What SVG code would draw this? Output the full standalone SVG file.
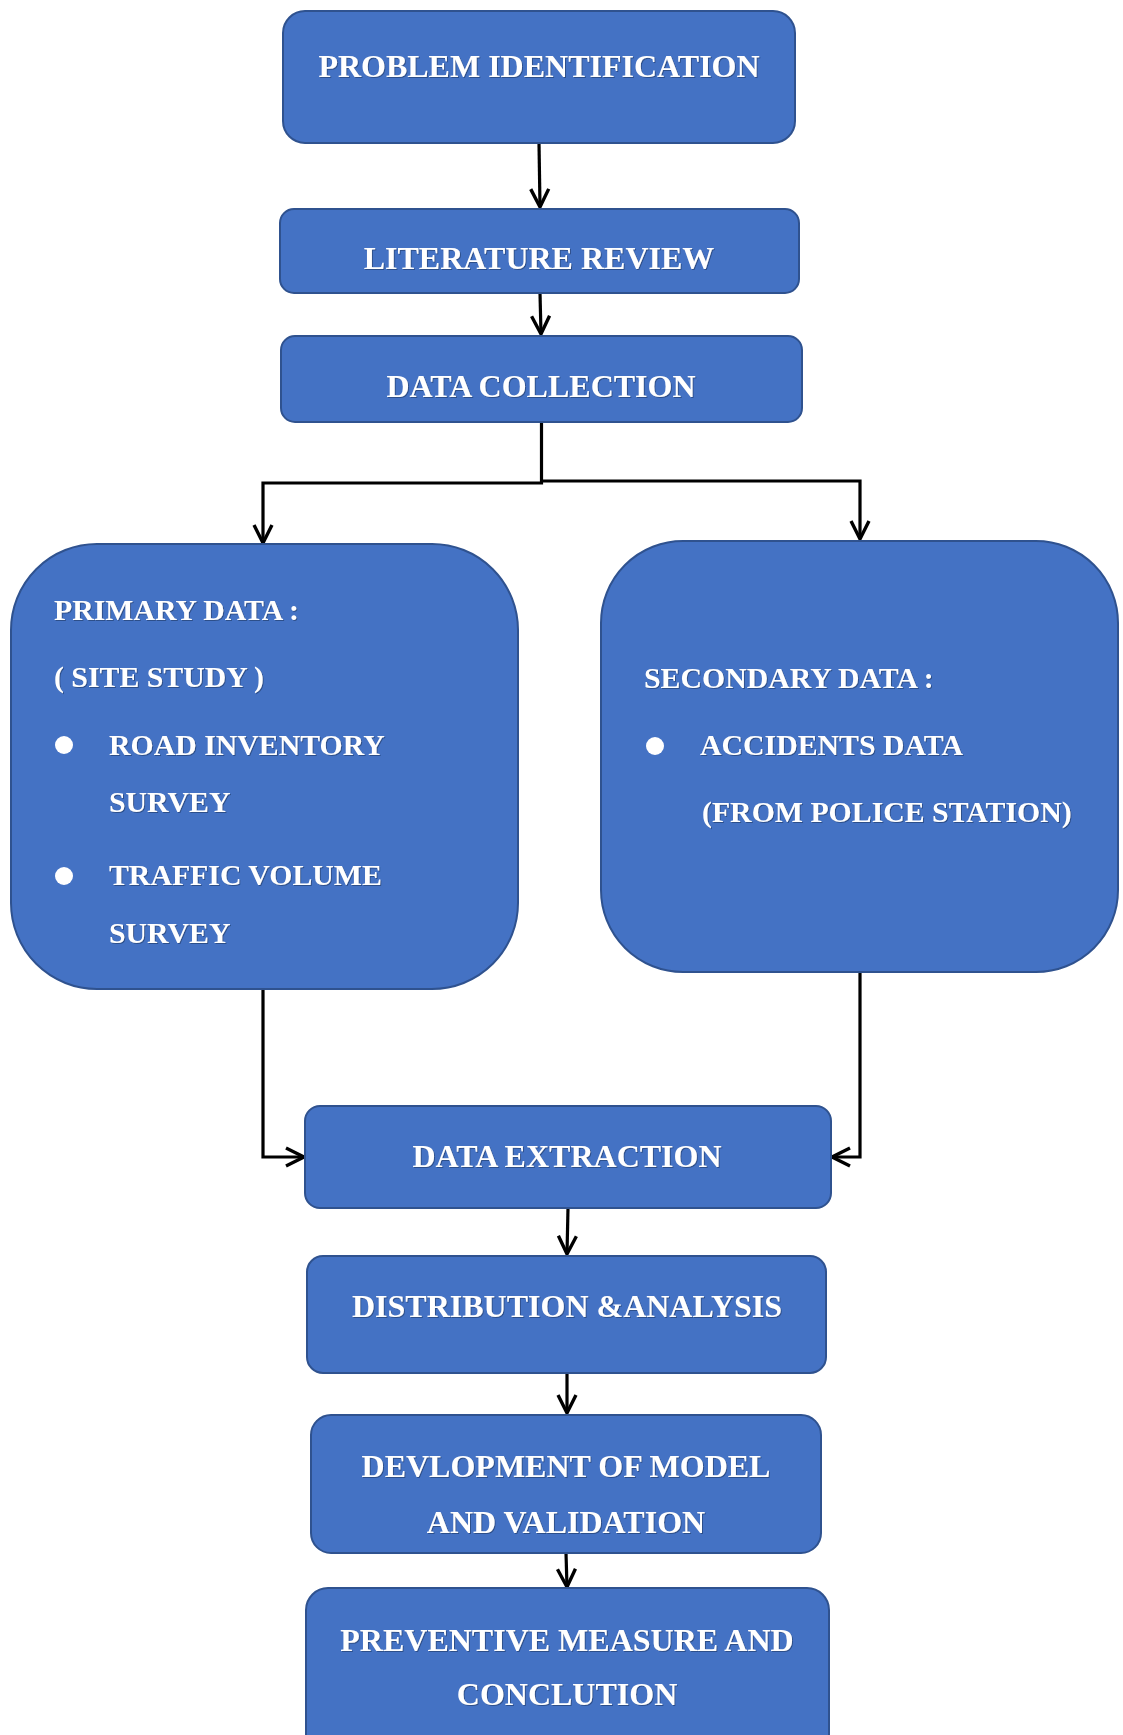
<svg xmlns="http://www.w3.org/2000/svg" width="1123" height="1735" viewBox="0 0 1123 1735">
  <defs>
    <style>
      .box { fill: #4472C4; stroke: #2F528F; stroke-width: 2; }
      .t { font-family: "Liberation Serif", "Times New Roman", serif; font-weight: bold; fill: #FFFFFF; filter: url(#sh); }
      .big { font-size: 32px; text-anchor: middle; }
      .small { font-size: 29.8px; }
      .conn { fill: none; stroke: #000000; stroke-width: 3.2; stroke-linejoin: miter; }
      .bullet { fill: #FFFFFF; }
    </style>
    <filter id="sh" x="-5%" y="-20%" width="110%" height="140%">
      <feDropShadow dx="1" dy="1" stdDeviation="0.6" flood-color="#1f3763" flood-opacity="0.6"/>
    </filter>
    <marker id="arr" markerUnits="userSpaceOnUse" markerWidth="30" markerHeight="30" refX="0" refY="0" viewBox="-20 -15 30 30" orient="auto" overflow="visible">
      <polyline points="-18,-9 0,0 -18,9" fill="none" stroke="#000000" stroke-width="3.4"/>
    </marker>
  </defs>
  <rect width="1123" height="1735" fill="#FFFFFF"/>

  <g id="connectors">
    <path class="conn" d="M539,143 L540,207" marker-end="url(#arr)"/>
    <path class="conn" d="M540,293 L541,334" marker-end="url(#arr)"/>
    <path class="conn" d="M541.5,422 L541.5,483 L263,483 L263,543" marker-end="url(#arr)"/>
    <path class="conn" d="M541.5,481 L860,481 L860,539" marker-end="url(#arr)"/>
    <path class="conn" d="M263,989 L263,1157 L304,1157" marker-end="url(#arr)"/>
    <path class="conn" d="M860,972 L860,1157 L832,1157" marker-end="url(#arr)"/>
    <path class="conn" d="M568,1208 L567,1254" marker-end="url(#arr)"/>
    <path class="conn" d="M567,1373 L567,1413" marker-end="url(#arr)"/>
    <path class="conn" d="M566,1553 L567,1587" marker-end="url(#arr)"/>
  </g>

  <g id="problem-identification">
    <rect class="box" x="283" y="11" width="512" height="132" rx="22"/>
    <text class="t big" x="539" y="77">PROBLEM IDENTIFICATION</text>
  </g>

  <g id="literature-review">
    <rect class="box" x="280" y="209" width="519" height="84" rx="14"/>
    <text class="t big" x="539" y="269">LITERATURE REVIEW</text>
  </g>

  <g id="data-collection">
    <rect class="box" x="281" y="336" width="521" height="86" rx="14"/>
    <text class="t big" x="541" y="397">DATA COLLECTION</text>
  </g>

  <g id="primary-data">
    <rect class="box" x="11" y="544" width="507" height="445" rx="86"/>
    <text class="t small" x="54" y="620">PRIMARY DATA :</text>
    <text class="t small" x="54" y="687">( SITE STUDY )</text>
    <circle class="bullet" cx="64" cy="745" r="9"/>
    <text class="t small" x="109" y="755">ROAD INVENTORY</text>
    <text class="t small" x="109" y="812">SURVEY</text>
    <circle class="bullet" cx="64" cy="876" r="9"/>
    <text class="t small" x="109" y="885">TRAFFIC VOLUME</text>
    <text class="t small" x="109" y="943">SURVEY</text>
  </g>

  <g id="secondary-data">
    <rect class="box" x="601" y="541" width="517" height="431" rx="82"/>
    <text class="t small" x="644" y="688">SECONDARY DATA :</text>
    <circle class="bullet" cx="655" cy="746" r="9"/>
    <text class="t small" x="700" y="755">ACCIDENTS DATA</text>
    <text class="t small" x="702" y="822">(FROM POLICE STATION)</text>
  </g>

  <g id="data-extraction">
    <rect class="box" x="305" y="1106" width="526" height="102" rx="15"/>
    <text class="t big" x="567" y="1167">DATA EXTRACTION</text>
  </g>

  <g id="distribution-analysis">
    <rect class="box" x="307" y="1256" width="519" height="117" rx="16"/>
    <text class="t big" x="567" y="1317">DISTRIBUTION &amp;ANALYSIS</text>
  </g>

  <g id="model-validation">
    <rect class="box" x="311" y="1415" width="510" height="138" rx="20"/>
    <text class="t big" x="566" y="1477">DEVLOPMENT OF MODEL</text>
    <text class="t big" x="566" y="1533">AND VALIDATION</text>
  </g>

  <g id="preventive-measure">
    <rect class="box" x="306" y="1588" width="523" height="170" rx="22"/>
    <text class="t big" x="567" y="1651">PREVENTIVE MEASURE AND</text>
    <text class="t big" x="567" y="1705">CONCLUTION</text>
  </g>
</svg>
